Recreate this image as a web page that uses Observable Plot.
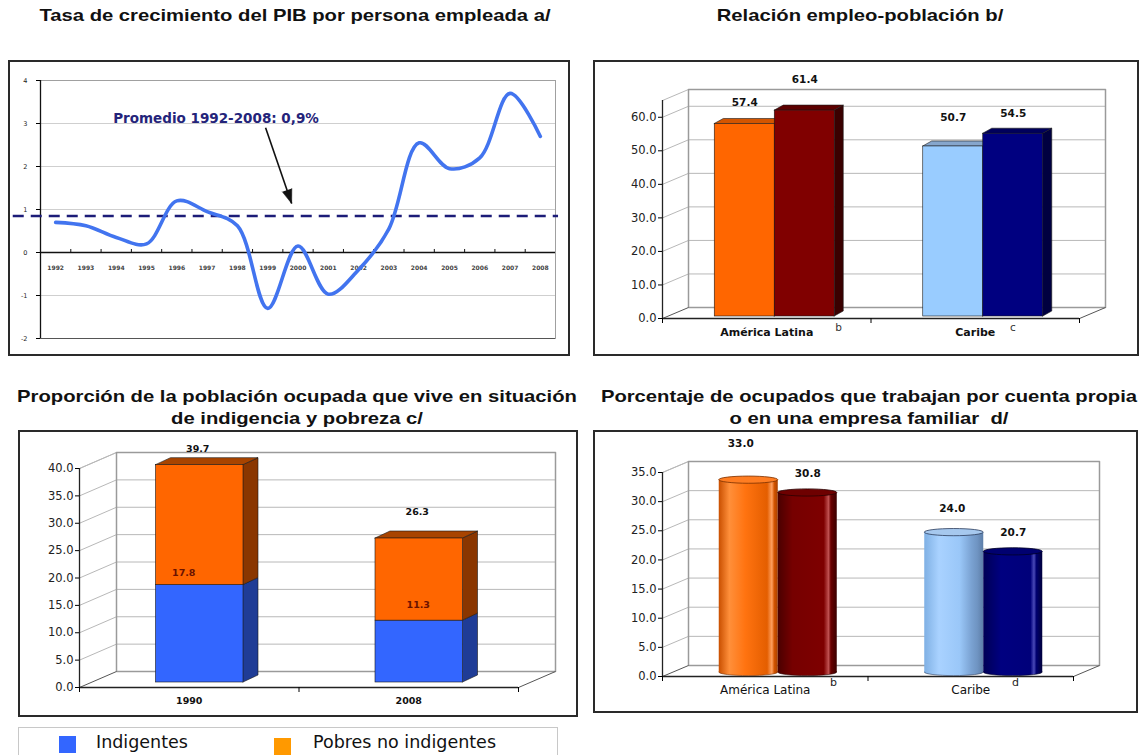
<!DOCTYPE html>
<html><head><meta charset="utf-8">
<script src="https://cdn.jsdelivr.net/npm/d3@7"></script>
<script src="https://cdn.jsdelivr.net/npm/@observablehq/plot@0.6"></script>
<style>
html,body{margin:0;padding:0;background:#fff;}
body{width:1146px;height:755px;position:relative;overflow:hidden;font-family:"Liberation Sans",Arial,sans-serif;}
.title{position:absolute;width:640px;font-weight:bold;font-size:17px;line-height:22px;text-align:center;white-space:pre;color:#111;transform:scaleX(1.19);transform-origin:center top;}
.box{position:absolute;border:2px solid #2a2a2a;box-sizing:border-box;pointer-events:none;}
.chart{position:absolute;}
.chart svg{display:block;overflow:visible;max-width:none;}
.legend{position:absolute;border:1px solid #c8c8c8;box-sizing:border-box;background:#fff;}
.legend .sw{position:absolute;width:17px;height:17px;}
.legend .lab{position:absolute;font-family:"DejaVu Sans",sans-serif;font-size:17.5px;line-height:20px;color:#111;white-space:pre;}
</style></head><body>
<script>
// ---------- DATA ----------
const years = [1992,1993,1994,1995,1996,1997,1998,1999,2000,2001,2002,2003,2004,2005,2006,2007,2008];
const gdpGrowth = [0.7,0.62,0.35,0.2,1.2,0.95,0.62,-1.3,0.15,-0.97,-0.4,0.55,2.55,1.95,2.2,3.7,2.7];
const avgGrowth = 0.85;
const avgSpan = [1990.6, 2008.6];
const avgLabel = "Promedio 1992-2008: 0,9%";
const avgLabelAt = [1993.9, 3.12];
const avgArrow = [1998.93, 2.9, 1999.79, 1.14];
const growthTicks = [-2,-1,0,1,2,3,4];

const regions = ["América Latina","Caribe"];
const empPopA = [57.4, 50.7];
const empPopB = [61.4, 54.5];
const empNotes = ["b","c"];
const empTicks = [0,10,20,30,40,50,60];

const povYears = ["1990","2008"];
const indigentes = [17.8, 11.3];
const pobresNoIndigentes = [21.9, 15.0];
const povTicks = [0,5,10,15,20,25,30,35,40];

const selfEmpA = [33.0, 24.0];
const selfEmpB = [30.8, 20.7];
const selfNotes = ["b","d"];
const selfTicks = [0,5,10,15,20,25,30,35];

const legendLabels = ["Indigentes","Pobres no indigentes"];
const legendColors = ["#3366ff","#ff9900"];

const titles = [
  "Tasa de crecimiento del PIB por persona empleada a/",
  "Relación empleo-población b/",
  "Proporción de la población ocupada que vive en situación\nde indigencia y pobreza c/",
  "Porcentaje de ocupados que trabajan por cuenta propia\no en una empresa familiar  d/"
];

// ---------- HELPERS ----------
function addTitle(text, cx, top){
  const d=document.createElement("div");d.className="title";d.textContent=text;
  d.style.left=(cx-320)+"px";d.style.top=top+"px";document.body.appendChild(d);
}
function place(svg,left,top,w,h){
  const d=document.createElement("div");d.className="chart";
  d.style.left=left+"px";d.style.top=top+"px";d.style.width=w+"px";d.style.height=h+"px";
  d.appendChild(svg);document.body.appendChild(d);
  const b=document.createElement("div");b.className="box";
  b.style.left=left+"px";b.style.top=top+"px";b.style.width=w+"px";b.style.height=h+"px";
  document.body.appendChild(b);
}
function walls(ticks,xMax,yMax,wdx,wdy){
  const grid="#b8b8b8";
  const inner=ticks.filter(t=>t>0);
  return [
    Plot.ruleY(inner,{y:d=>d+wdy,x1:wdx,x2:xMax+wdx,stroke:grid}),
    Plot.link(inner.concat([yMax]),{x1:0,y1:d=>d,x2:wdx,y2:d=>d+wdy,stroke:grid}),
    Plot.line([[wdx,wdy],[wdx,yMax+wdy],[xMax+wdx,yMax+wdy],[xMax+wdx,wdy],[wdx,wdy]],{x:d=>d[0],y:d=>d[1],stroke:"#9a9a9a"}),
    Plot.link([0],{x1:0,y1:0,x2:wdx,y2:wdy,stroke:"#555"}),
    Plot.link([xMax],{x1:d=>d,y1:0,x2:d=>d+wdx,y2:wdy,stroke:"#555"}),
    Plot.ruleY([0],{x1:0,x2:xMax,stroke:"#222",strokeWidth:1.3}),
    Plot.ruleX([0],{y1:0,y2:yMax,stroke:"#222",strokeWidth:1.3}),
    Plot.axisX({ticks:d3.range(0,xMax+1),tickFormat:()=>"",tickSize:5}),
    Plot.axisY({ticks:ticks,tickFormat:d=>d.toFixed(1),tickSize:4,tickPadding:2,fontSize:11.5,fill:"#222"})
  ];
}
function boxes(list,bdx,bdy,dy){
  const sides=list.flatMap(d=>[{id:d.id,x:d.x2,y1:d.y1,y2:d.y2,fill:d.side},{id:d.id,x:d.x2+bdx,y1:d.y1+bdy,y2:d.y2+bdy,fill:d.side}]);
  const tops=list.filter(d=>d.showTop).flatMap(d=>[{id:d.id,y:d.y2,x1:d.x1,x2:d.x2,fill:d.top},{id:d.id,y:d.y2+bdy,x1:d.x1+bdx,x2:d.x2+bdx,fill:d.top}]);
  const st={stroke:"#1a1a1a",strokeWidth:0.6,dy};
  return [
    Plot.areaY(sides,{x:"x",y1:"y1",y2:"y2",z:"id",fill:"fill",...st}),
    Plot.areaX(tops,{y:"y",x1:"x1",x2:"x2",z:"id",fill:"fill",...st}),
    Plot.rect(list,{x1:"x1",x2:"x2",y1:"y1",y2:"y2",fill:"front",...st})
  ];
}
const baseStyle={fontFamily:"DejaVu Sans, sans-serif",fontSize:"11.5px",background:"transparent",overflow:"visible"};

// ---------- PANEL 1 ----------
{
  const W=562,H=296;
  const pxX=515/17, pxY=258/6;
  const ang=Math.atan2((avgArrow[2]-avgArrow[0])*pxX,(avgArrow[3]-avgArrow[1])*pxY)*180/Math.PI;
  const svg=Plot.plot({
    width:W,height:H,marginLeft:32,marginRight:15,marginTop:20,marginBottom:18,
    x:{domain:[1991.5,2008.5],axis:null},
    y:{domain:[-2,4],axis:null},
    style:{...baseStyle,fontSize:"6.5px"},
    marks:[
      Plot.ruleY([-1,1,2,3],{stroke:"#cfcfcf"}),
      Plot.frame({stroke:"#a0a0a0"}),
      Plot.ruleY([-2],{stroke:"#555"}),
      Plot.ruleX([1991.5],{stroke:"#111",strokeWidth:1.3}),
      Plot.ruleY([0],{stroke:"#111",strokeWidth:1.3}),
      Plot.ruleX(years.slice(0,-1).map(y=>y+0.5),{y1:0,y2:0.07,stroke:"#111"}),
      Plot.axisY({ticks:growthTicks,tickFormat:d=>String(d),tickSize:4,tickPadding:9,fontSize:6.5,fill:"#222"}),
      Plot.text(years,{x:d=>d,y:0,dy:16,text:d=>String(d),fontSize:6,fontWeight:"bold",fill:"#444"}),
      Plot.ruleY([avgGrowth],{x1:avgSpan[0],x2:avgSpan[1],stroke:"#1c1c78",strokeWidth:2.6,strokeDasharray:"11,7"}),
      Plot.line(years,{x:d=>d,y:(d,i)=>gdpGrowth[i],curve:"catmull-rom",stroke:"#4274ef",strokeWidth:3.6}),
      Plot.text([avgLabel],{x:avgLabelAt[0],y:avgLabelAt[1],text:d=>d,textAnchor:"start",fontWeight:"bold",fontSize:13.5,fill:"#24247a"}),
      Plot.link([avgArrow],{x1:d=>d[0],y1:d=>d[1],x2:d=>d[2],y2:d=>d[3],stroke:"#111",strokeWidth:1.6}),
      Plot.vector([avgArrow],{x:d=>d[2],y:d=>d[3],length:14,rotate:ang,shape:"spike",r:5,anchor:"end",fill:"#111",stroke:"#111",strokeWidth:0.5})
    ]
  });
  place(svg,8,60,W,H);
  addTitle(titles[0],295,5);
}

// ---------- PANEL 2 ----------
{
  const W=546,H=296,xMax=2,yMax=65;
  const pxX=417/2, pxY=218/65;
  const wdx=26/pxX, wdy=11/pxY, bdx=9/pxX, bdy=5/pxY;
  const bw=60/pxX, sh=8/pxX;
  const cols=[[{front:"#ff6600",side:"#9e3c00",top:"#d45500"},{front:"#800000",side:"#3a0000",top:"#5c0000"}],
              [{front:"#99ccff",side:"#5f84ad",top:"#86a6cc"},{front:"#000080",side:"#000040",top:"#00005c"}]];
  const bars=regions.flatMap((r,g)=>[
    {id:r+"A",x1:g+0.5+sh-bw,x2:g+0.5+sh,y1:0,y2:empPopA[g],showTop:true,...cols[g][0]},
    {id:r+"B",x1:g+0.5+sh,x2:g+0.5+sh+bw,y1:0,y2:empPopB[g],showTop:true,...cols[g][1]}
  ]);
  const lifts=[7.1,9.9,9.3,6.7];
  const labels=bars.map((b,i)=>({x:(b.x1+b.x2)/2,y:b.y2+lifts[i],t:b.y2.toFixed(1)}));
  const noteOff=[0.344,0.18];
  const svg=Plot.plot({
    width:W,height:H,marginLeft:69,marginRight:60,marginTop:40,marginBottom:38,
    x:{domain:[0,xMax],axis:null},y:{domain:[0,yMax],axis:null},
    color:{type:"identity"},style:baseStyle,
    marks:[
      ...walls(empTicks,xMax,yMax,wdx,wdy),
      ...boxes(bars,bdx,bdy,-2),
      Plot.text(labels,{x:"x",y:"y",text:"t",fontWeight:"bold",fontSize:10.5,fill:"#111"}),
      Plot.text(regions,{x:(d,i)=>i+0.5,y:0,dy:14,text:d=>d,fontWeight:"bold",fontSize:11,fill:"#111"}),
      Plot.text(empNotes,{x:(d,i)=>i+0.5+noteOff[i],y:0,dy:9,text:d=>d,fontSize:10.5,fill:"#333"})
    ]
  });
  place(svg,593,60,W,H);
  addTitle(titles[1],860,5);
}

// ---------- PANEL 3 ----------
{
  const W=560,H=287,xMax=2,yMax=40;
  const pxX=439/2, pxY=219/40;
  const wdx=37/pxX, wdy=16/pxY, bdx=15/pxX, bdy=7/pxY;
  const bw=87.5/pxX, sh=10.5/pxX;
  const segs=povYears.flatMap((y,g)=>[
    {id:y+"i",x1:g+0.5+sh-bw/2,x2:g+0.5+sh+bw/2,y1:0,y2:indigentes[g],showTop:false,front:"#3366ff",side:"#1f3c96",top:"#2a52cc"},
    {id:y+"p",x1:g+0.5+sh-bw/2,x2:g+0.5+sh+bw/2,y1:indigentes[g],y2:indigentes[g]+pobresNoIndigentes[g],showTop:true,front:"#ff6600",side:"#8a3600",top:"#a84400"}
  ]);
  const totLift=[3.95,5.85], indLift=[3.2,3.7], indDx=[-16,-1];
  const totals=povYears.map((y,g)=>({x:g+0.5+sh,y:indigentes[g]+pobresNoIndigentes[g]+totLift[g],t:(indigentes[g]+pobresNoIndigentes[g]).toFixed(1)}));
  const inds=povYears.map((y,g)=>({x:g+0.5+sh,y:indigentes[g]+indLift[g],t:indigentes[g].toFixed(1),dx:indDx[g]}));
  const svg=Plot.plot({
    width:W,height:H,marginLeft:61,marginRight:60,marginTop:38,marginBottom:30,
    x:{domain:[0,xMax],axis:null},y:{domain:[0,yMax],axis:null},
    color:{type:"identity"},style:baseStyle,
    marks:[
      ...walls(povTicks,xMax,yMax,wdx,wdy),
      ...boxes(segs,bdx,bdy,-5),
      Plot.text(totals,{x:"x",y:"y",text:"t",fontWeight:"bold",fontSize:9.5,fill:"#111",dx:-2}),
      Plot.text([inds[0]],{x:"x",y:"y",text:"t",fontWeight:"bold",fontSize:9.5,fill:"#6b1200",dx:indDx[0]}),
      Plot.text([inds[1]],{x:"x",y:"y",text:"t",fontWeight:"bold",fontSize:9.5,fill:"#6b1200",dx:indDx[1]}),
      Plot.text(povYears,{x:(d,i)=>i+0.5,y:0,dy:13,text:d=>d,fontWeight:"bold",fontSize:9.5,fill:"#111"})
    ]
  });
  place(svg,18,430,W,H);
  addTitle(titles[2],297,386);
  // legend
  const lg=document.createElement("div");lg.className="legend";
  lg.style.left="18px";lg.style.top="727px";lg.style.width="540px";lg.style.height="40px";
  const swX=[40,255], labX=[77,294];
  legendLabels.forEach((t,i)=>{
    const s=document.createElement("div");s.className="sw";s.style.left=swX[i]+"px";s.style.top=(8+i*2)+"px";s.style.background=legendColors[i];lg.appendChild(s);
    const l=document.createElement("div");l.className="lab";l.style.left=labX[i]+"px";l.style.top="4px";l.textContent=t;lg.appendChild(l);
  });
  document.body.appendChild(lg);
}

// ---------- PANEL 4 ----------
{
  const W=545,H=283,xMax=2,yMax=35;
  const pxX=411/2, pxY=204/35;
  const wdx=26/pxX, wdy=11/pxY;
  const bw=59/pxX, sh=13/pxX, e=3.6/pxY;
  const grads=[["g-or","#ff6a00"],["g-dr","#7a0000"],["g-lb","#99ccff"],["g-nv","#000080"]];
  const tops=[["#ff7d22","#7a3000"],["#6e0000","#2a0000"],["#a6c8ee","#2c3c5c"],["#000070","#000025"]];
  const vals=[selfEmpA[0],selfEmpB[0],selfEmpA[1],selfEmpB[1]];
  const cyl=vals.map((v,i)=>{
    const g=Math.floor(i/2), k=i%2;
    const x1=k===0?g+0.5+sh-bw:g+0.5+sh;
    return {x1,x2:x1+bw,v,body:"url(#"+grads[i][0]+")",top:tops[i][0],edge:tops[i][1]};
  });
  const lifts=[7.0,4.0,4.8,4.0], ldx=[-8,0,-2,0];
  const labels=cyl.map((c,i)=>({x:(c.x1+c.x2)/2,y:c.v+lifts[i],t:c.v.toFixed(1),dx:ldx[i]}));
  const noteOff=[0.332,0.218];
  const svg=Plot.plot({
    width:W,height:H,marginLeft:69,marginRight:65,marginTop:42,marginBottom:37,
    x:{domain:[0,xMax],axis:null},y:{domain:[0,yMax],axis:null},
    color:{type:"identity"},style:baseStyle,
    marks:[
      ...walls(selfTicks,xMax,yMax,wdx,wdy),
      Plot.rect(cyl,{x1:"x1",x2:"x2",y1:d=>-e,y2:d=>e,fill:"body",rx:40,dy:-4,stroke:"edge",strokeWidth:0.6}),
      Plot.rect(cyl,{x1:"x1",x2:"x2",y1:0,y2:"v",fill:"body",dy:-4}),
      Plot.rect(cyl,{x1:"x1",x2:"x2",y1:d=>d.v-e,y2:d=>d.v+e,fill:"top",stroke:"edge",strokeWidth:0.8,rx:40,dy:-4}),
      ...labels.map(l=>Plot.text([l],{x:"x",y:"y",text:"t",fontWeight:"bold",fontSize:10.5,fill:"#111",dx:l.dx})),
      Plot.text(regions,{x:(d,i)=>i+0.5,y:0,dy:14,text:d=>d,fontSize:12,fill:"#111"}),
      Plot.text(selfNotes,{x:(d,i)=>i+0.5+noteOff[i],y:0,dy:6,text:d=>d,fontSize:11,fill:"#222"})
    ]
  });
  // gradient definitions for cylinder shading
  const ns="http://www.w3.org/2000/svg";
  const defs=document.createElementNS(ns,"defs");
  const stops={
    "g-or":[[0,"#c94f00"],[0.18,"#ff8f3a"],[0.45,"#ff7310"],[0.82,"#e45e00"],[0.9,"#ffa060"],[0.94,"#d35400"],[1,"#a84000"]],
    "g-dr":[[0,"#4a0000"],[0.25,"#760000"],[0.78,"#7e0000"],[0.86,"#c05050"],[0.9,"#6a0000"],[1,"#3a0000"]],
    "g-lb":[[0,"#7fb0e4"],[0.25,"#a9d2ff"],[0.6,"#9ac7f8"],[0.8,"#7aa2d2"],[0.9,"#6f94c2"],[1,"#5d7ea8"]],
    "g-nv":[[0,"#000055"],[0.3,"#000080"],[0.8,"#00007a"],[0.86,"#4a4ab8"],[0.9,"#000070"],[1,"#00003a"]]
  };
  Object.entries(stops).forEach(([id,ss])=>{
    const lg=document.createElementNS(ns,"linearGradient");
    lg.setAttribute("id",id);lg.setAttribute("x1","0");lg.setAttribute("x2","1");lg.setAttribute("y1","0");lg.setAttribute("y2","0");
    ss.forEach(([o,c])=>{const s=document.createElementNS(ns,"stop");s.setAttribute("offset",o);s.setAttribute("stop-color",c);lg.appendChild(s);});
    defs.appendChild(lg);
  });
  svg.insertBefore(defs,svg.firstChild);
  place(svg,593,430,W,H);
  addTitle(titles[3],869,386);
}
</script>
</body></html>
